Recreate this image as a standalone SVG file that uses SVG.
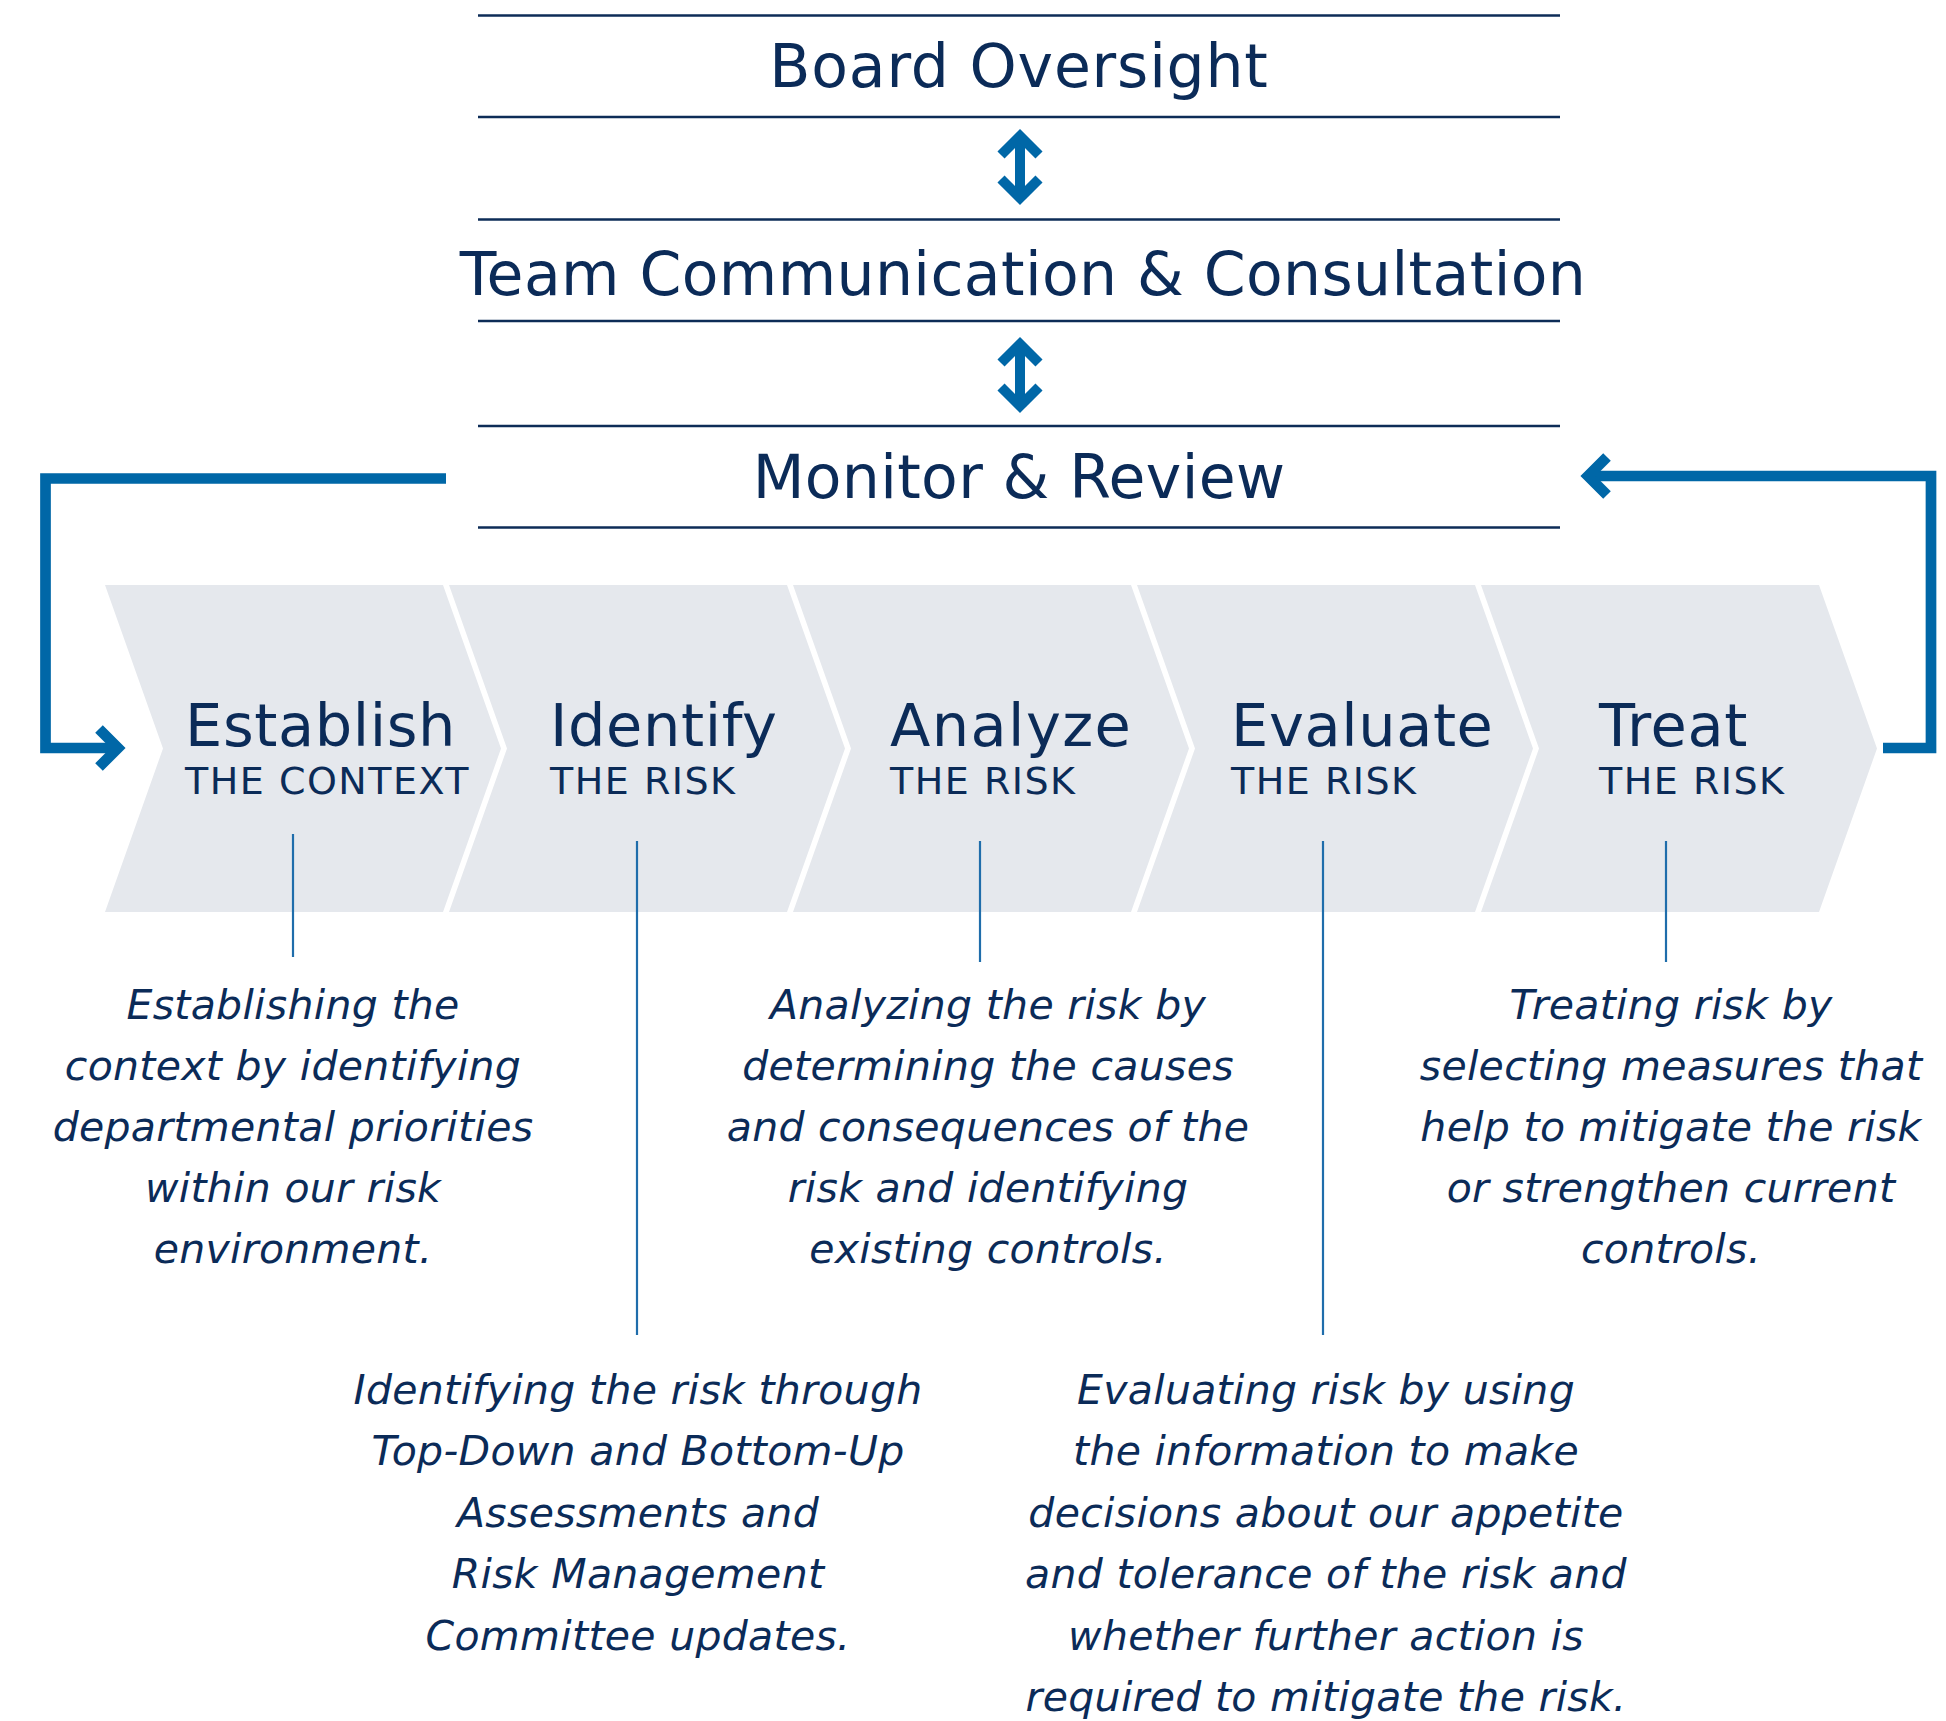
<svg xmlns="http://www.w3.org/2000/svg" width="1946" height="1721" viewBox="0 0 1946 1721">
<style>
.bg{fill:#ffffff}
.rule{stroke:#0d2c57;stroke-width:2.6;fill:none}
.head{font-family:"DejaVu Sans","Liberation Sans",sans-serif;font-size:60px;letter-spacing:0.8px;fill:#0b2b58;text-anchor:middle}
.chev{fill:#e5e8ed}
.title{font-family:"DejaVu Sans","Liberation Sans",sans-serif;font-size:59px;letter-spacing:0.6px;fill:#0b2b58}
.sub{font-family:"DejaVu Sans","Liberation Sans",sans-serif;font-size:38px;letter-spacing:1.5px;fill:#0b2b58}
.desc{font-family:"DejaVu Sans","Liberation Sans",sans-serif;font-style:italic;font-size:41px;letter-spacing:0.3px;fill:#0b2b58;text-anchor:middle}
.blue{stroke:#0067a7;fill:none;stroke-width:10.7;stroke-linejoin:miter;stroke-linecap:butt}
.dbl{stroke:#0067a7;fill:none;stroke-width:10;stroke-linejoin:miter;stroke-linecap:butt}
.lead{stroke:#1f6dab;stroke-width:2.2;fill:none}
</style>
<rect class="bg" x="0" y="0" width="1946" height="1721"/>

<g id="board">
<line class="rule" x1="478" y1="15.5" x2="1560" y2="15.5"/>
<text class="head" x="1019" y="87">Board Oversight</text>
<line class="rule" x1="478" y1="117" x2="1560" y2="117"/>
</g>

<g id="team">
<line class="rule" x1="478" y1="219.5" x2="1560" y2="219.5"/>
<text class="head" x="1023" y="295" style="letter-spacing:0.4px">Team Communication &amp; Consultation</text>
<line class="rule" x1="478" y1="321" x2="1560" y2="321"/>
</g>

<g id="monitor">
<line class="rule" x1="478" y1="426" x2="1560" y2="426"/>
<text class="head" x="1019" y="498" style="letter-spacing:0.35px">Monitor &amp; Review</text>
<line class="rule" x1="478" y1="527.5" x2="1560" y2="527.5"/>
</g>

<g id="establish">
<polygon class="chev" points="105,585 443,585 501,748.5 443,912 105,912 163,748.5"/>
<text class="title" x="185" y="746">Establish</text>
<text class="sub" x="185" y="794">THE CONTEXT</text>
<text class="desc" x="293" y="1019">Establishing the</text>
<text class="desc" x="293" y="1080">context by identifying</text>
<text class="desc" x="293" y="1141">departmental priorities</text>
<text class="desc" x="293" y="1202">within our risk</text>
<text class="desc" x="293" y="1263">environment.</text>
</g>

<g id="identify">
<polygon class="chev" points="449,585 787,585 845,748.5 787,912 449,912 507,748.5"/>
<text class="title" x="550" y="746">Identify</text>
<text class="sub" x="550" y="794">THE RISK</text>
<text class="desc" x="638" y="1404">Identifying the risk through</text>
<text class="desc" x="638" y="1465">Top-Down and Bottom-Up</text>
<text class="desc" x="638" y="1527">Assessments and</text>
<text class="desc" x="638" y="1588">Risk Management</text>
<text class="desc" x="638" y="1650">Committee updates.</text>
</g>

<g id="analyze">
<polygon class="chev" points="793,585 1131,585 1189,748.5 1131,912 793,912 851,748.5"/>
<text class="title" x="890" y="746" style="letter-spacing:1.4px">Analyze</text>
<text class="sub" x="890" y="794">THE RISK</text>
<text class="desc" x="988" y="1019">Analyzing the risk by</text>
<text class="desc" x="988" y="1080">determining the causes</text>
<text class="desc" x="988" y="1141">and consequences of the</text>
<text class="desc" x="988" y="1202">risk and identifying</text>
<text class="desc" x="988" y="1263">existing controls.</text>
</g>

<g id="evaluate">
<polygon class="chev" points="1137,585 1475,585 1533,748.5 1475,912 1137,912 1195,748.5"/>
<text class="title" x="1231" y="746">Evaluate</text>
<text class="sub" x="1231" y="794">THE RISK</text>
<text class="desc" x="1326" y="1404">Evaluating risk by using</text>
<text class="desc" x="1326" y="1465">the information to make</text>
<text class="desc" x="1326" y="1527">decisions about our appetite</text>
<text class="desc" x="1326" y="1588">and tolerance of the risk and</text>
<text class="desc" x="1326" y="1650">whether further action is</text>
<text class="desc" x="1326" y="1711">required to mitigate the risk.</text>
</g>

<g id="treat">
<polygon class="chev" points="1481,585 1819,585 1877,748.5 1819,912 1481,912 1539,748.5"/>
<text class="title" x="1599" y="746">Treat</text>
<text class="sub" x="1599" y="794">THE RISK</text>
<text class="desc" x="1671" y="1019">Treating risk by</text>
<text class="desc" x="1671" y="1080">selecting measures that</text>
<text class="desc" x="1671" y="1141">help to mitigate the risk</text>
<text class="desc" x="1671" y="1202">or strengthen current</text>
<text class="desc" x="1671" y="1263">controls.</text>
</g>

<g id="connectors">
<line class="dbl" x1="1020" y1="136" x2="1020" y2="198"/>
<polyline class="dbl" points="1001,155 1020,136 1039,155"/>
<polyline class="dbl" points="1001,179 1020,198 1039,179"/>
<line class="dbl" x1="1020" y1="344" x2="1020" y2="406"/>
<polyline class="dbl" points="1001,363 1020,344 1039,363"/>
<polyline class="dbl" points="1001,387 1020,406 1039,387"/>
<path class="blue" d="M446,478.5 H45.5 V748 H118"/>
<polyline class="blue" points="99,729 118,748 99,767"/>
<path class="blue" d="M1883,748 H1931 V476 H1588"/>
<polyline class="blue" points="1607,457 1588,476 1607,495"/>
<line class="lead" x1="293" y1="834" x2="293" y2="957"/>
<line class="lead" x1="637" y1="841" x2="637" y2="1335"/>
<line class="lead" x1="980" y1="841" x2="980" y2="962"/>
<line class="lead" x1="1323" y1="841" x2="1323" y2="1335"/>
<line class="lead" x1="1666" y1="841" x2="1666" y2="962"/>
</g>
</svg>
